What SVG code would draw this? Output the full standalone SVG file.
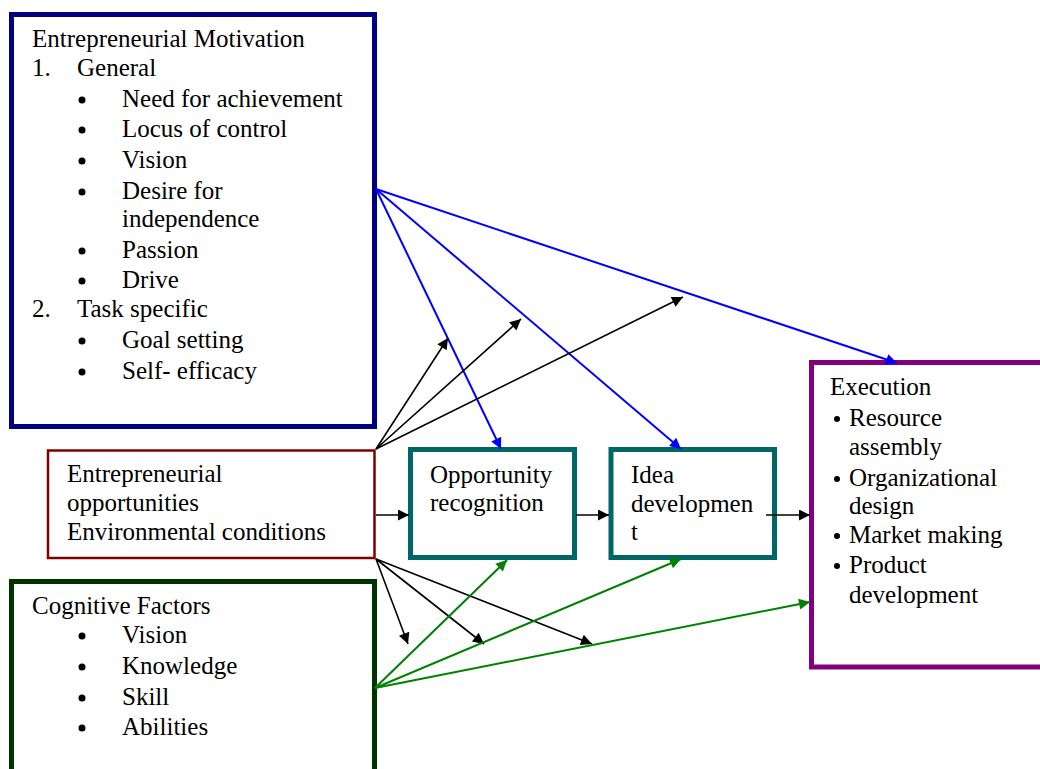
<svg xmlns="http://www.w3.org/2000/svg" width="1040" height="769" viewBox="0 0 1040 769" font-size="25">
  <style>
    text { fill: #000; }
    .dot { fill: #000; }
    .box { fill: #fff; }
    .thick { stroke-width: 5; }
    .thin { stroke-width: 2.5; }
    .blk { stroke: #000; stroke-width: 1.6; fill: none; marker-end: url(#ahBlack); }
    .blu { stroke: #0000ff; stroke-width: 2; fill: none; marker-end: url(#ahBlue); }
    .grn { stroke: #008000; stroke-width: 2; fill: none; marker-end: url(#ahGreen); }
  </style>
  <defs>
    <marker id="ahBlack" viewBox="0 0 10 10" refX="10" refY="5" markerWidth="14" markerHeight="11" markerUnits="userSpaceOnUse" orient="auto">
      <path d="M0,0 L10,5 L0,10 z" fill="#000"/>
    </marker>
    <marker id="ahBlue" viewBox="0 0 10 10" refX="10" refY="5" markerWidth="14" markerHeight="11" markerUnits="userSpaceOnUse" orient="auto">
      <path d="M0,0 L10,5 L0,10 z" fill="#0000ff"/>
    </marker>
    <marker id="ahGreen" viewBox="0 0 10 10" refX="10" refY="5" markerWidth="14" markerHeight="11" markerUnits="userSpaceOnUse" orient="auto">
      <path d="M0,0 L10,5 L0,10 z" fill="#008000"/>
    </marker>
  </defs>
  <rect width="1040" height="769" fill="#fff"/>

  <!-- Entrepreneurial Motivation -->
  <g id="motivation">
    <rect class="box thick" x="11.5" y="14.5" width="363" height="412" stroke="#000080"/>
    <text font-family="Liberation Serif" x="32" y="47">Entrepreneurial Motivation</text>
    <text font-family="Liberation Serif" x="32" y="76">1.</text><text font-family="Liberation Serif" x="77" y="76">General</text>
    <circle class="dot" cx="82" cy="100" r="3.5"/><text font-family="Liberation Serif" x="122" y="107">Need for achievement</text>
    <circle class="dot" cx="82" cy="130" r="3.5"/><text font-family="Liberation Serif" x="122" y="137">Locus of control</text>
    <circle class="dot" cx="82" cy="161" r="3.5"/><text font-family="Liberation Serif" x="122" y="168">Vision</text>
    <circle class="dot" cx="82" cy="192" r="3.5"/><text font-family="Liberation Serif" x="122" y="199">Desire for</text>
    <text font-family="Liberation Serif" x="122" y="227">independence</text>
    <circle class="dot" cx="82" cy="251" r="3.5"/><text font-family="Liberation Serif" x="122" y="258">Passion</text>
    <circle class="dot" cx="82" cy="281" r="3.5"/><text font-family="Liberation Serif" x="122" y="288">Drive</text>
    <text font-family="Liberation Serif" x="32" y="317">2.</text><text font-family="Liberation Serif" x="77" y="317">Task specific</text>
    <circle class="dot" cx="82" cy="341" r="3.5"/><text font-family="Liberation Serif" x="122" y="348">Goal setting</text>
    <circle class="dot" cx="82" cy="372" r="3.5"/><text font-family="Liberation Serif" x="122" y="379">Self- efficacy</text>
  </g>

  <!-- Entrepreneurial opportunities -->
  <g id="opportunities">
    <rect class="box thin" x="48" y="450.5" width="326.5" height="107.5" stroke="#800000"/>
    <text font-family="Liberation Serif" x="67" y="482">Entrepreneurial</text>
    <text font-family="Liberation Serif" x="67" y="511">opportunities</text>
    <text font-family="Liberation Serif" x="67" y="540">Environmental conditions</text>
  </g>

  <!-- Cognitive Factors -->
  <g id="cognitive">
    <rect class="box thick" x="11.5" y="581.5" width="363" height="200" stroke="#003300"/>
    <text font-family="Liberation Serif" x="32" y="614">Cognitive Factors</text>
    <circle class="dot" cx="82" cy="636" r="3.5"/><text font-family="Liberation Serif" x="122" y="643">Vision</text>
    <circle class="dot" cx="82" cy="667" r="3.5"/><text font-family="Liberation Serif" x="122" y="674">Knowledge</text>
    <circle class="dot" cx="82" cy="698" r="3.5"/><text font-family="Liberation Serif" x="122" y="705">Skill</text>
    <circle class="dot" cx="82" cy="728" r="3.5"/><text font-family="Liberation Serif" x="122" y="735">Abilities</text>
  </g>

  <!-- Opportunity recognition -->
  <g id="recognition">
    <rect class="box thick" x="410.5" y="449.5" width="164" height="108" stroke="#006666"/>
    <text font-family="Liberation Serif" x="430" y="483">Opportunity</text>
    <text font-family="Liberation Serif" x="430" y="511">recognition</text>
  </g>

  <!-- Idea development -->
  <g id="idea">
    <rect class="box thick" x="611" y="449.5" width="163.5" height="108" stroke="#006666"/>
    <text font-family="Liberation Serif" x="631" y="483">Idea</text>
    <text font-family="Liberation Serif" x="631" y="512">developmen</text>
    <text font-family="Liberation Serif" x="631" y="540">t</text>
  </g>

  <!-- Execution -->
  <g id="execution">
    <rect class="box thick" x="811.5" y="362.5" width="260" height="304.5" stroke="#800080"/>
    <text font-family="Liberation Serif" x="830" y="395">Execution</text>
    <circle class="dot" cx="837" cy="419" r="3"/><text font-family="Liberation Serif" x="849" y="426">Resource</text>
    <text font-family="Liberation Serif" x="849" y="455">assembly</text>
    <circle class="dot" cx="837" cy="479" r="3"/><text font-family="Liberation Serif" x="849" y="486">Organizational</text>
    <text font-family="Liberation Serif" x="849" y="514">design</text>
    <circle class="dot" cx="837" cy="536" r="3"/><text font-family="Liberation Serif" x="849" y="543">Market making</text>
    <circle class="dot" cx="837" cy="566" r="3"/><text font-family="Liberation Serif" x="849" y="573">Product</text>
    <text font-family="Liberation Serif" x="849" y="603">development</text>
  </g>

  <!-- connectors -->
  <g id="connectors">
    <line class="blu" x1="376" y1="189" x2="501" y2="449"/>
    <line class="blu" x1="376" y1="189" x2="681" y2="449"/>
    <line class="blu" x1="376" y1="189" x2="897" y2="363"/>

    <line class="blk" x1="376" y1="449" x2="448" y2="338"/>
    <line class="blk" x1="376" y1="449" x2="521" y2="319"/>
    <line class="blk" x1="376" y1="449" x2="683" y2="297"/>

    <line class="blk" x1="376" y1="515" x2="409" y2="515"/>
    <line class="blk" x1="576" y1="515" x2="609" y2="515"/>
    <line class="blk" x1="766" y1="515" x2="810" y2="515"/>

    <line class="blk" x1="376" y1="559" x2="408" y2="644"/>
    <line class="blk" x1="376" y1="559" x2="484" y2="644"/>
    <line class="blk" x1="376" y1="559" x2="592" y2="644"/>

    <line class="grn" x1="375" y1="688" x2="507" y2="560"/>
    <line class="grn" x1="375" y1="688" x2="681" y2="559"/>
    <line class="grn" x1="375" y1="688" x2="810" y2="602"/>
  </g>
</svg>
